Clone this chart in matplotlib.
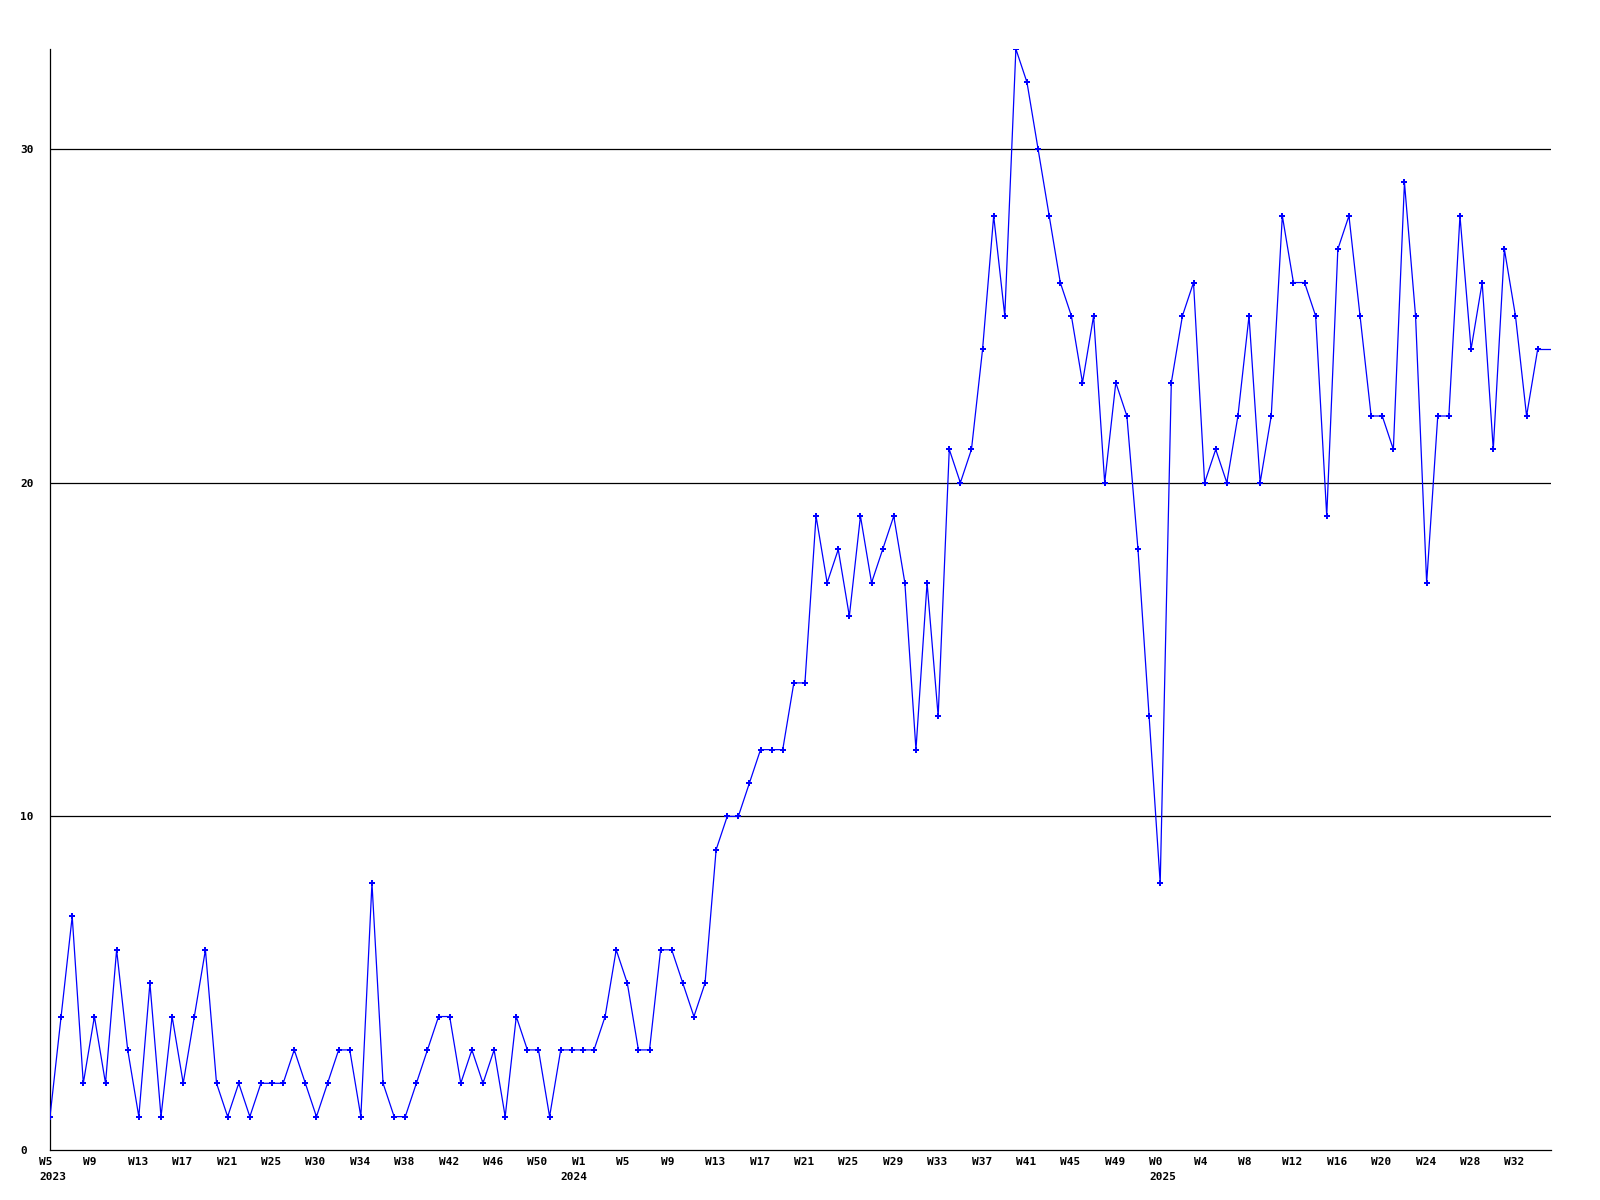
import numpy as np
import matplotlib
matplotlib.use("Agg")
import matplotlib.pyplot as plt
from matplotlib.transforms import ScaledTranslation, blended_transform_factory

# weekly counts, W5 2023 .. W34 2025
values = [1, 4, 7, 2, 4, 2, 6, 3, 1, 5, 1, 4, 2, 4, 6, 2, 1, 2, 1, 2,
          2, 2, 3, 2, 1, 2, 3, 3, 1, 8, 2, 1, 1, 2,
          3, 4, 4, 2, 3, 2, 3, 1, 4, 3, 3, 1, 3, 3, 3, 3, 4, 6, 5, 3,
          3, 6, 6, 5, 4, 5,
          9, 10, 10, 11, 12, 12, 12, 14, 14, 19, 17, 18, 16, 19, 17, 18,
          19, 17, 12, 17, 13, 21,
          20, 21, 24, 28, 25, 33, 32, 30, 28, 26, 25, 23, 25, 20, 23, 22,
          18, 13, 8,
          23, 25, 26, 20, 21, 20, 22, 25, 20, 22, 28, 26, 26, 25, 19, 27,
          28, 25, 22, 22, 21, 29, 25, 17, 22, 22, 28, 24, 26, 21, 27, 25,
          22, 24]

week_labels = ["W5", "W9", "W13", "W17", "W21", "W25", "W30", "W34", "W38",
               "W42", "W46", "W50",
               "W1", "W5", "W9", "W13", "W17", "W21", "W25", "W29", "W33",
               "W37", "W41", "W45", "W49",
               "W0", "W4", "W8", "W12", "W16", "W20", "W24", "W28", "W32"]
years = ["2023", "2024", "2025"]
year_pos = [0, 47, 100]

y_ticks = [0, 10, 20, 30]
x_end = 135.2

FONT = {"family": "DejaVu Sans Mono", "weight": "bold", "size": 8}

fig = plt.figure(figsize=(16, 12), dpi=100)
ax = fig.add_axes([50 / 1600, 1 - 1150 / 1200, 1501 / 1600, 1101 / 1200])

x = np.arange(len(values))
ax.plot(x, values, color="#0000ff", lw=0.9, marker="P", ms=4, mew=0, zorder=3)
ax.plot([x[-1], x_end], [values[-1], values[-1]], color="#0000ff", lw=0.9, zorder=3)

ax.set_xlim(0, x_end)
ax.set_ylim(0, 33)

for v in y_ticks[1:]:
    ax.axhline(v, color="black", lw=0.9, zorder=1)

for side in ["top", "right"]:
    ax.spines[side].set_visible(False)
for side in ["left", "bottom"]:
    ax.spines[side].set_color("black")
    ax.spines[side].set_linewidth(0.9)

ax.set_yticks(y_ticks)
ax.set_yticklabels([str(v) for v in y_ticks], fontdict=FONT)
ax.tick_params(axis="y", length=0, pad=21.6)
for lab in ax.get_yticklabels():
    lab.set_ha("left")

ax.set_xticks(np.arange(len(week_labels)) * 4)
ax.set_xticklabels(week_labels, fontdict=FONT)
ax.tick_params(axis="x", length=0, pad=5)
shift = ScaledTranslation(-11 / 100, 0, fig.dpi_scale_trans)
for lab in ax.get_xticklabels():
    lab.set_ha("left")
    lab.set_transform(lab.get_transform() + shift)

trans = blended_transform_factory(ax.transData, ax.transAxes) + shift
for yr, pos in zip(years, year_pos):
    ax.text(pos, -0.020, yr, transform=trans, ha="left", va="top", **FONT)

fig.savefig("out.png", dpi=100)
